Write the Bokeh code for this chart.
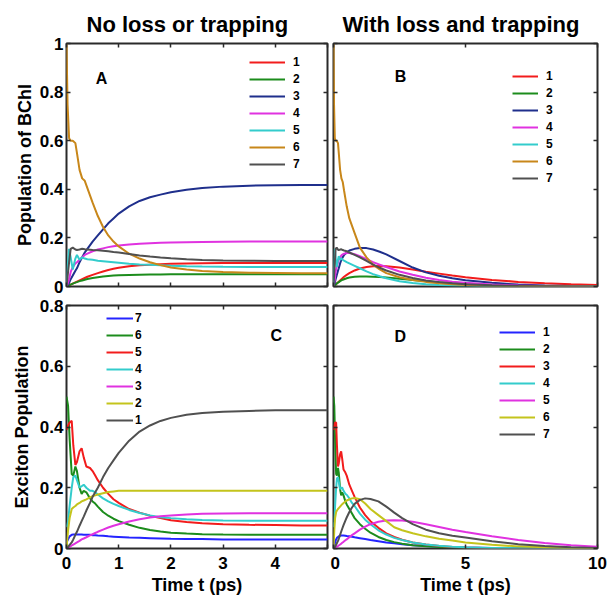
from bokeh.plotting import figure
from bokeh.models import Range1d, LinearAxis, FixedTicker, Legend, LegendItem, Label
from bokeh.layouts import column, row
from bokeh.embed import file_html
from bokeh.resources import INLINE

# ---------------- data ----------------
# Panel A : site populations, no loss or trapping (0-5 ps)
tA = [0, 0.02, 0.05, 0.08, 0.12, 0.17, 0.2, 0.25, 0.3, 0.35, 0.4, 0.5, 0.6, 0.7, 0.8, 0.9,
      1.0, 1.2, 1.4, 1.6, 1.8, 2.0, 2.3, 2.6, 3.0, 3.5, 4.0, 4.5, 5.0]
A1 = [0, 0.002, 0.005, 0.008, 0.012, 0.017, 0.02, 0.025, 0.03, 0.035, 0.04, 0.048, 0.055, 0.062, 0.068,
      0.073, 0.077, 0.083, 0.087, 0.09, 0.092, 0.094, 0.095, 0.096, 0.097, 0.097, 0.097, 0.097, 0.097]
A2 = [0, 0.002, 0.005, 0.008, 0.012, 0.016, 0.018, 0.022, 0.025, 0.028, 0.031, 0.035, 0.038, 0.041, 0.043,
      0.045, 0.046, 0.047, 0.048, 0.049, 0.049, 0.05, 0.05, 0.05, 0.05, 0.05, 0.05, 0.05, 0.05]
A3 = [0, 0.005, 0.015, 0.03, 0.045, 0.065, 0.075, 0.1, 0.12, 0.14, 0.155, 0.185, 0.21, 0.235, 0.26,
      0.28, 0.3, 0.33, 0.352, 0.367, 0.378, 0.388, 0.398, 0.405, 0.411, 0.415, 0.417, 0.418, 0.418]
A4 = [0, 0.01, 0.03, 0.06, 0.08, 0.095, 0.1, 0.11, 0.12, 0.13, 0.135, 0.145, 0.152, 0.157, 0.162,
      0.166, 0.169, 0.173, 0.176, 0.178, 0.18, 0.181, 0.182, 0.183, 0.184, 0.185, 0.185, 0.185, 0.185]
A5 = [0, 0.08, 0.155, 0.12, 0.07, 0.115, 0.13, 0.11, 0.12, 0.115, 0.112, 0.11, 0.106, 0.104, 0.102,
      0.1, 0.098, 0.094, 0.091, 0.089, 0.087, 0.085, 0.083, 0.082, 0.081, 0.08, 0.08, 0.08, 0.08]
A6 = [1.0, 0.75, 0.61, 0.60, 0.60, 0.59, 0.55, 0.48, 0.445, 0.435, 0.405, 0.345, 0.29, 0.245, 0.21,
      0.185, 0.165, 0.135, 0.115, 0.1, 0.088, 0.078, 0.07, 0.064, 0.06, 0.057, 0.056, 0.055, 0.055]
A7 = [0, 0.04, 0.10, 0.155, 0.16, 0.152, 0.15, 0.152, 0.155, 0.153, 0.152, 0.15, 0.149, 0.147, 0.145,
      0.142, 0.14, 0.134, 0.128, 0.123, 0.119, 0.116, 0.112, 0.109, 0.107, 0.106, 0.105, 0.105, 0.105]

# Panel B : site populations, with loss and trapping (0-10 ps)
tB = [0, 0.02, 0.05, 0.08, 0.12, 0.17, 0.2, 0.25, 0.3, 0.35, 0.4, 0.5, 0.6, 0.8, 1.0, 1.25, 1.5, 1.75,
      2.0, 2.5, 3.0, 3.5, 4.0, 4.5, 5.0, 6.0, 7.0, 8.0, 9.0, 10.0]
B1 = [0, 0.002, 0.005, 0.008, 0.012, 0.017, 0.02, 0.025, 0.03, 0.035, 0.04, 0.048, 0.055, 0.066, 0.074,
      0.08, 0.083, 0.084, 0.083, 0.078, 0.07, 0.061, 0.053, 0.045, 0.038, 0.027, 0.019, 0.013, 0.009, 0.006]
B2 = [0, 0.002, 0.005, 0.008, 0.012, 0.016, 0.018, 0.022, 0.025, 0.028, 0.03, 0.034, 0.037, 0.04, 0.041,
      0.041, 0.04, 0.039, 0.037, 0.032, 0.027, 0.022, 0.018, 0.014, 0.011, 0.006, 0.003, 0.002, 0.001, 0.0]
B3 = [0, 0.005, 0.015, 0.03, 0.045, 0.065, 0.075, 0.095, 0.11, 0.12, 0.13, 0.14, 0.148, 0.155, 0.158,
      0.158, 0.152, 0.143, 0.132, 0.105, 0.078, 0.058, 0.044, 0.034, 0.026, 0.015, 0.008, 0.004, 0.002, 0.001]
B4 = [0, 0.01, 0.03, 0.06, 0.08, 0.1, 0.11, 0.12, 0.128, 0.132, 0.135, 0.138, 0.138, 0.133, 0.125,
      0.113, 0.1, 0.09, 0.08, 0.062, 0.048, 0.036, 0.027, 0.02, 0.015, 0.008, 0.004, 0.002, 0.001, 0.0]
B5 = [0, 0.08, 0.155, 0.12, 0.08, 0.11, 0.125, 0.11, 0.115, 0.11, 0.106, 0.1, 0.095, 0.085, 0.075,
      0.062, 0.051, 0.042, 0.034, 0.022, 0.014, 0.009, 0.006, 0.004, 0.003, 0.001, 0.0, 0.0, 0.0, 0.0]
B6 = [1.0, 0.75, 0.61, 0.60, 0.60, 0.59, 0.55, 0.48, 0.445, 0.43, 0.395, 0.33, 0.28, 0.22, 0.16,
      0.12, 0.09, 0.07, 0.055, 0.038, 0.027, 0.019, 0.013, 0.009, 0.006, 0.003, 0.002, 0.001, 0.0, 0.0]
B7 = [0, 0.04, 0.10, 0.155, 0.16, 0.152, 0.15, 0.152, 0.153, 0.15, 0.148, 0.145, 0.14, 0.13, 0.12,
      0.105, 0.09, 0.077, 0.066, 0.048, 0.035, 0.025, 0.018, 0.013, 0.009, 0.005, 0.002, 0.001, 0.0, 0.0]

# Panel C : exciton populations, no loss or trapping (0-5 ps)
tC = [0, 0.03, 0.06, 0.1, 0.13, 0.17, 0.2, 0.25, 0.29, 0.33, 0.38, 0.45, 0.5, 0.55, 0.6, 0.7, 0.8,
      0.9, 1.0, 1.2, 1.4, 1.6, 1.8, 2.0, 2.3, 2.6, 3.0, 3.5, 4.0, 4.5, 5.0]
C7 = [0.02, 0.03, 0.04, 0.045, 0.046, 0.046, 0.046, 0.046, 0.046, 0.045, 0.045, 0.045, 0.044, 0.044,
      0.043, 0.042, 0.04, 0.039, 0.038, 0.036, 0.035, 0.034, 0.033, 0.032, 0.031, 0.031, 0.03, 0.03,
      0.03, 0.03, 0.03]
C6 = [0.5, 0.47, 0.36, 0.245, 0.24, 0.27, 0.255, 0.2, 0.18, 0.19, 0.185, 0.165, 0.155, 0.148, 0.138,
      0.12, 0.108, 0.098, 0.09, 0.078, 0.068, 0.061, 0.056, 0.052, 0.049, 0.047, 0.046, 0.045, 0.045,
      0.045, 0.045]
C5 = [0.39, 0.405, 0.415, 0.42, 0.34, 0.275, 0.285, 0.32, 0.33, 0.3, 0.27, 0.265, 0.255, 0.24, 0.225,
      0.2, 0.18, 0.162, 0.15, 0.13, 0.118, 0.108, 0.1, 0.093, 0.087, 0.083, 0.08, 0.078, 0.077, 0.076,
      0.076]
C4 = [0.07, 0.09, 0.14, 0.2, 0.235, 0.24, 0.225, 0.2, 0.205, 0.21, 0.2, 0.19, 0.19, 0.185, 0.178,
      0.165, 0.155, 0.147, 0.14, 0.127, 0.117, 0.109, 0.103, 0.1, 0.096, 0.094, 0.092, 0.091, 0.091,
      0.091, 0.091]
C3 = [0, 0.002, 0.005, 0.01, 0.013, 0.017, 0.02, 0.025, 0.03, 0.033, 0.037, 0.043, 0.047, 0.051, 0.055,
      0.062, 0.069, 0.075, 0.08, 0.089, 0.096, 0.102, 0.106, 0.109, 0.112, 0.114, 0.115, 0.116, 0.116,
      0.116, 0.116]
C2 = [0, 0.06, 0.1, 0.13, 0.135, 0.14, 0.145, 0.15, 0.155, 0.158, 0.162, 0.168, 0.172, 0.175, 0.178,
      0.182, 0.186, 0.188, 0.19, 0.19, 0.19, 0.19, 0.19, 0.19, 0.19, 0.19, 0.19, 0.19, 0.19, 0.19, 0.19]
C1 = [0, 0.005, 0.012, 0.02, 0.03, 0.045, 0.055, 0.075, 0.09, 0.105, 0.125, 0.15, 0.17, 0.185, 0.2,
      0.235, 0.265, 0.29, 0.315, 0.355, 0.385, 0.405, 0.42, 0.43, 0.44, 0.446, 0.45, 0.453, 0.455,
      0.455, 0.455]

# Panel D : exciton populations, with loss and trapping (0-10 ps)
tD = [0, 0.03, 0.06, 0.1, 0.13, 0.17, 0.2, 0.25, 0.29, 0.33, 0.38, 0.45, 0.5, 0.6, 0.7, 0.8, 1.0, 1.2,
      1.4, 1.7, 2.0, 2.3, 2.6, 3.0, 3.5, 4.0, 4.5, 5.0, 6.0, 7.0, 8.0, 9.0, 10.0]
D1 = [0, 0.01, 0.02, 0.03, 0.035, 0.038, 0.04, 0.042, 0.043, 0.043, 0.043, 0.042, 0.041, 0.04, 0.039,
      0.037, 0.034, 0.031, 0.028, 0.024, 0.02, 0.017, 0.014, 0.011, 0.008, 0.006, 0.004, 0.003, 0.002,
      0.001, 0.0, 0.0, 0.0]
D2 = [0.5, 0.47, 0.36, 0.245, 0.24, 0.265, 0.25, 0.195, 0.175, 0.185, 0.175, 0.155, 0.145, 0.13, 0.115,
      0.1, 0.08, 0.065, 0.052, 0.038, 0.028, 0.021, 0.016, 0.011, 0.007, 0.005, 0.003, 0.002, 0.001,
      0.0, 0.0, 0.0, 0.0]
D3 = [0.39, 0.405, 0.415, 0.415, 0.34, 0.27, 0.28, 0.31, 0.32, 0.295, 0.26, 0.25, 0.24, 0.21, 0.19,
      0.17, 0.135, 0.11, 0.09, 0.068, 0.05, 0.038, 0.029, 0.02, 0.013, 0.008, 0.005, 0.003, 0.001,
      0.0, 0.0, 0.0, 0.0]
D4 = [0.07, 0.09, 0.14, 0.2, 0.23, 0.235, 0.22, 0.195, 0.2, 0.2, 0.19, 0.18, 0.177, 0.165, 0.15,
      0.14, 0.115, 0.095, 0.08, 0.06, 0.046, 0.035, 0.028, 0.02, 0.013, 0.009, 0.006, 0.004, 0.002,
      0.001, 0.0, 0.0, 0.0]
D5 = [0, 0.001, 0.002, 0.004, 0.006, 0.008, 0.01, 0.013, 0.016, 0.019, 0.022, 0.027, 0.03, 0.037,
      0.044, 0.05, 0.062, 0.072, 0.08, 0.088, 0.092, 0.093, 0.092, 0.088, 0.08, 0.071, 0.062, 0.054,
      0.04, 0.028, 0.018, 0.011, 0.006]
D6 = [0, 0.06, 0.1, 0.12, 0.125, 0.13, 0.133, 0.138, 0.142, 0.146, 0.15, 0.155, 0.158, 0.162, 0.165,
      0.166, 0.162, 0.148, 0.13, 0.11, 0.09, 0.07, 0.06, 0.05, 0.04, 0.032, 0.026, 0.02, 0.012, 0.007,
      0.004, 0.002, 0.001]
D7 = [0, 0.002, 0.006, 0.012, 0.018, 0.025, 0.032, 0.045, 0.055, 0.065, 0.077, 0.092, 0.102, 0.12,
      0.135, 0.147, 0.16, 0.165, 0.163, 0.155, 0.138, 0.118, 0.1, 0.08, 0.062, 0.05, 0.042, 0.036,
      0.024, 0.014, 0.008, 0.004, 0.002]

site_labels = ["1", "2", "3", "4", "5", "6", "7"]
exc_labels_C = ["7", "6", "5", "4", "3", "2", "1"]
exc_labels_D = ["1", "2", "3", "4", "5", "6", "7"]

y_ticks_A = [0, 0.2, 0.4, 0.6, 0.8, 1]
y_tick_labels_A = ["0", "0.2", "0.4", "0.6", "0.8", "1"]
y_ticks_C = [0, 0.2, 0.4, 0.6, 0.8]
y_tick_labels_C = ["0", "0.2", "0.4", "0.6", "0.8"]
x_ticks_5 = [0, 1, 2, 3, 4, 5]
x_tick_labels_5 = ["0", "1", "2", "3", "4", ""]
x_ticks_10 = [0, 5, 10]
x_tick_labels_10 = ["0", "5", "10"]

# ---------------- styling ----------------
FONT = "Liberation Sans"
RED = "#f21c1c"
GREEN = "#1c8c1c"
NAVY = "#1f2f8c"
MAGENTA = "#e032e0"
CYAN = "#33cccc"
ORANGE = "#c8871a"
GRAY = "#505050"
BLUE = "#2424ff"
YELLOW = "#c4c41c"
FRAME = "#2a2a2a"

site_colors = [RED, GREEN, NAVY, MAGENTA, CYAN, ORANGE, GRAY]
exc_colors = [BLUE, GREEN, RED, CYAN, MAGENTA, YELLOW, GRAY]


def make_fig(width, height, xr, yr, ml, mr, mt, mb, title=None, title_offset=0):
    p = figure(width=width, height=height, x_range=Range1d(*xr), y_range=Range1d(*yr),
               output_backend="svg", toolbar_location=None,
               x_axis_location=None, y_axis_location=None,
               min_border_left=ml, min_border_right=mr, min_border_top=mt, min_border_bottom=mb,
               outline_line_color=FRAME, outline_line_width=2,
               background_fill_color="white", border_fill_color="white",
               title=title)
    p.grid.visible = False
    if title is not None:
        p.title.text_font = FONT
        p.title.text_font_style = "bold"
        p.title.text_font_size = "22px"
        p.title.text_color = "black"
        p.title.align = "left"
        p.title.vertical_align = "top"
        p.title.offset = title_offset
        p.title.standoff = 10
    return p


def add_axis(p, side, ticks, labels=None, standoff=3, axis_label=None, label_standoff=2):
    ax = LinearAxis(ticker=FixedTicker(ticks=ticks), major_tick_in=4, major_tick_out=0,
                    major_tick_line_color=FRAME, major_tick_line_width=1.5,
                    minor_tick_line_color=None, axis_line_color=None)
    if labels is not None:
        ax.major_label_overrides = {t: s for t, s in zip(ticks, labels)}
        ax.major_label_text_font = FONT
        ax.major_label_text_font_style = "bold"
        ax.major_label_text_font_size = "17px"
        ax.major_label_text_color = "black"
        ax.major_label_standoff = standoff
    else:
        ax.major_label_text_font_size = "1px"
        ax.major_label_text_color = None
        ax.major_label_standoff = 0
    if axis_label is not None:
        ax.axis_label = axis_label
        ax.axis_label_text_font = FONT
        ax.axis_label_text_font_style = "bold"
        ax.axis_label_text_font_size = "18px"
        ax.axis_label_text_color = "black"
        ax.axis_label_standoff = label_standoff
    p.add_layout(ax, side)


def add_lines(p, t, series, colors, labels, legend_order, loc, glyph_w, lab_standoff):
    rends = []
    for ys, c in zip(series, colors):
        rends.append(p.line(t, ys, line_color=c, line_width=2))
    items = [LegendItem(label=labels[i], renderers=[rends[i]]) for i in legend_order]
    leg = Legend(items=items, location=loc, padding=0, margin=0, spacing=3,
                 glyph_width=glyph_w, glyph_height=12, label_height=12, label_width=8,
                 label_standoff=lab_standoff, border_line_color=None,
                 background_fill_alpha=0, label_text_font=FONT,
                 label_text_font_style="bold", label_text_font_size="12px",
                 label_text_color="black")
    p.add_layout(leg)


def add_letter(p, x, y, txt):
    p.add_layout(Label(x=x, y=y, text=txt, text_align="center", text_baseline="middle",
                       text_font=FONT, text_font_style="bold", text_font_size="16px",
                       text_color="black"))


# Panel A
pA = make_fig(330, 295, (0, 5), (0, 1), 66, 3, 43, 9, title="No loss or trapping", title_offset=20)
add_axis(pA, "left", y_ticks_A, y_tick_labels_A, standoff=3, axis_label="Population of BChl", label_standoff=2)
add_axis(pA, "right", y_ticks_A)
add_axis(pA, "above", x_ticks_5)
add_axis(pA, "below", x_ticks_5)
add_lines(pA, tA, [A1, A2, A3, A4, A5, A6, A7], site_colors, site_labels,
          [0, 1, 2, 3, 4, 5, 6], (183, 115), 36, 8)
add_letter(pA, 0.67, 0.856, "A")

# Panel B
pB = make_fig(277, 295, (0, 10), (0, 1), 3, 10, 43, 9, title="With loss and trapping", title_offset=9)
add_axis(pB, "left", y_ticks_A)
add_axis(pB, "right", y_ticks_A)
add_axis(pB, "above", x_ticks_10)
add_axis(pB, "below", x_ticks_10)
add_lines(pB, tB, [B1, B2, B3, B4, B5, B6, B7], site_colors, site_labels,
          [0, 1, 2, 3, 4, 5, 6], (179, 101), 26, 8)
add_letter(pB, 2.54, 0.864, "B")

# Panel C
pC = make_fig(330, 302, (0, 5), (0, 0.8), 66, 3, 10, 49)
add_axis(pC, "left", y_ticks_C, y_tick_labels_C, standoff=3, axis_label="Exciton Population", label_standoff=5)
add_axis(pC, "right", y_ticks_C)
add_axis(pC, "above", x_ticks_5)
add_axis(pC, "below", x_ticks_5, x_tick_labels_5, standoff=8, axis_label="Time t (ps)", label_standoff=3)
add_lines(pC, tC, [C7, C6, C5, C4, C3, C2, C1], exc_colors, exc_labels_C,
          [0, 1, 2, 3, 4, 5, 6], (40, 121), 27, 2)
add_letter(pC, 4.02, 0.70, "C")

# Panel D
pD = make_fig(277, 302, (0, 10), (0, 0.8), 3, 10, 10, 49)
add_axis(pD, "left", y_ticks_C)
add_axis(pD, "right", y_ticks_C)
add_axis(pD, "above", x_ticks_10)
add_axis(pD, "below", x_ticks_10, x_tick_labels_10, standoff=8, axis_label="Time t (ps)", label_standoff=3)
add_lines(pD, tD, [D1, D2, D3, D4, D5, D6, D7], exc_colors, exc_labels_D,
          [0, 1, 2, 3, 4, 5, 6], (166, 107), 36, 8)
add_letter(pD, 2.53, 0.698, "D")

layout = column(row(pA, pB), row(pC, pD))

with open("out.html", "w") as f:
    f.write(file_html(layout, INLINE, title="Populations"))
